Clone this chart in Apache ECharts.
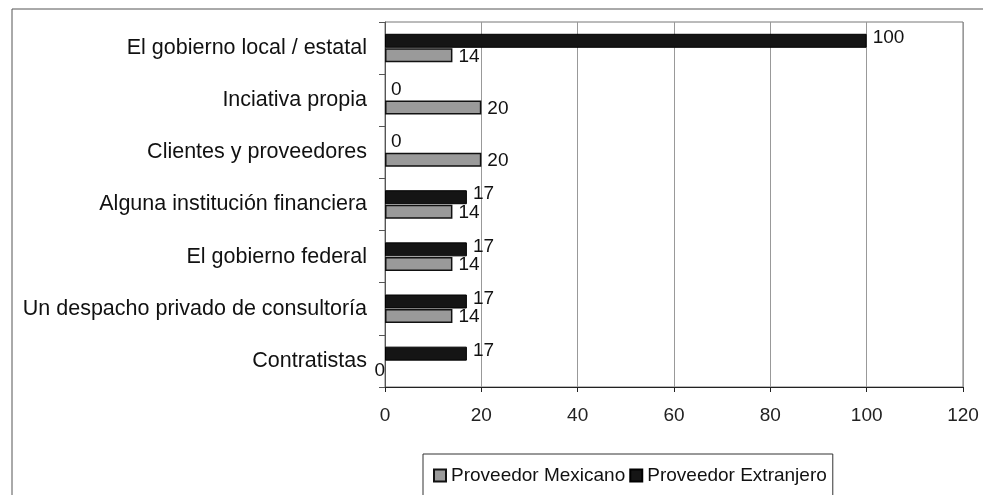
<!DOCTYPE html>
<html><head><meta charset="utf-8">
<script src="https://cdn.jsdelivr.net/npm/echarts@6/dist/echarts.min.js"></script>
<style>html,body{margin:0;padding:0;background:#fff}#c{width:983px;height:495px}</style>
</head><body><div id="c"></div>
<script>
var categories = ["El gobierno local / estatal","Inciativa propia","Clientes y proveedores","Alguna institución financiera","El gobierno federal","Un despacho privado de consultoría","Contratistas"];
var mexicano = [14, 20, 20, 14, 14, 14, 0];
var extranjero = [100, 0, 0, 17, 17, 17, 17];
var xTicks = [0, 20, 40, 60, 80, 100, 120];
var seriesNames = ["Proveedor Mexicano", "Proveedor Extranjero"];

var font = "'Liberation Sans', Arial, sans-serif";
var chart = echarts.init(document.getElementById('c'), null, {renderer:'canvas'});
var lbl = {show:true, position:'right', color:'#111', fontSize:19, fontFamily:font, distance:6};
function items(arr, extra){
  return arr.map(function(v,i){
    var o = {value:v};
    if (v === 0) o.itemStyle = {borderWidth:0};
    if (extra) extra(o, i);
    return o;
  });
}
chart.setOption({
  backgroundColor:'#fff',
  animation:false,
  graphic:[{type:'rect', shape:{x:12, y:9, width:975, height:500}, style:{fill:'none', stroke:'#555', lineWidth:1}}],
  grid:{left:385, right:20, top:22, bottom:108, show:true, borderColor:'#777', borderWidth:1},
  legend:{
    data:seriesNames, bottom:-4, left:423, icon:'rect',
    itemWidth:12, itemHeight:12, itemGap:4,
    textStyle:{fontSize:19, fontFamily:font, color:'#111'},
    borderColor:'#333', borderWidth:1, padding:[12,6,14,10], borderRadius:0
  },
  xAxis:{
    type:'value', min:0, max:120, interval:20,
    axisLine:{show:true, lineStyle:{color:'#222'}},
    axisTick:{show:true, length:5, lineStyle:{color:'#222'}},
    axisLabel:{fontSize:19, fontFamily:font, color:'#222', margin:19,
      formatter:function(v){return xTicks.indexOf(v)>=0 ? String(v) : '';}},
    splitLine:{show:true, lineStyle:{color:'#999'}}
  },
  yAxis:{
    type:'category', data:categories, inverse:true,
    axisLine:{show:true, lineStyle:{color:'#555'}},
    axisTick:{show:true, length:6, inside:false, lineStyle:{color:'#555'}},
    axisLabel:{fontSize:21.5, fontFamily:font, color:'#111', margin:18}
  },
  series:[
    {name:seriesNames[1], type:'bar', data:items(extranjero), barWidth:14, barGap:'4%',
     itemStyle:{color:'#151515', borderColor:'#000', borderWidth:1},
     label:Object.assign({}, lbl, {offset:[0,-3]})},
    {name:seriesNames[0], type:'bar',
     data:items(mexicano, function(o,i){ if (i===mexicano.length-1) o.label = {position:'left', offset:[6,3]}; }),
     barWidth:14,
     itemStyle:{color:'#9a9a9a', borderColor:'#111', borderWidth:1.5},
     label:Object.assign({}, lbl, {offset:[0,1]})}
  ]
});
</script></body></html>
